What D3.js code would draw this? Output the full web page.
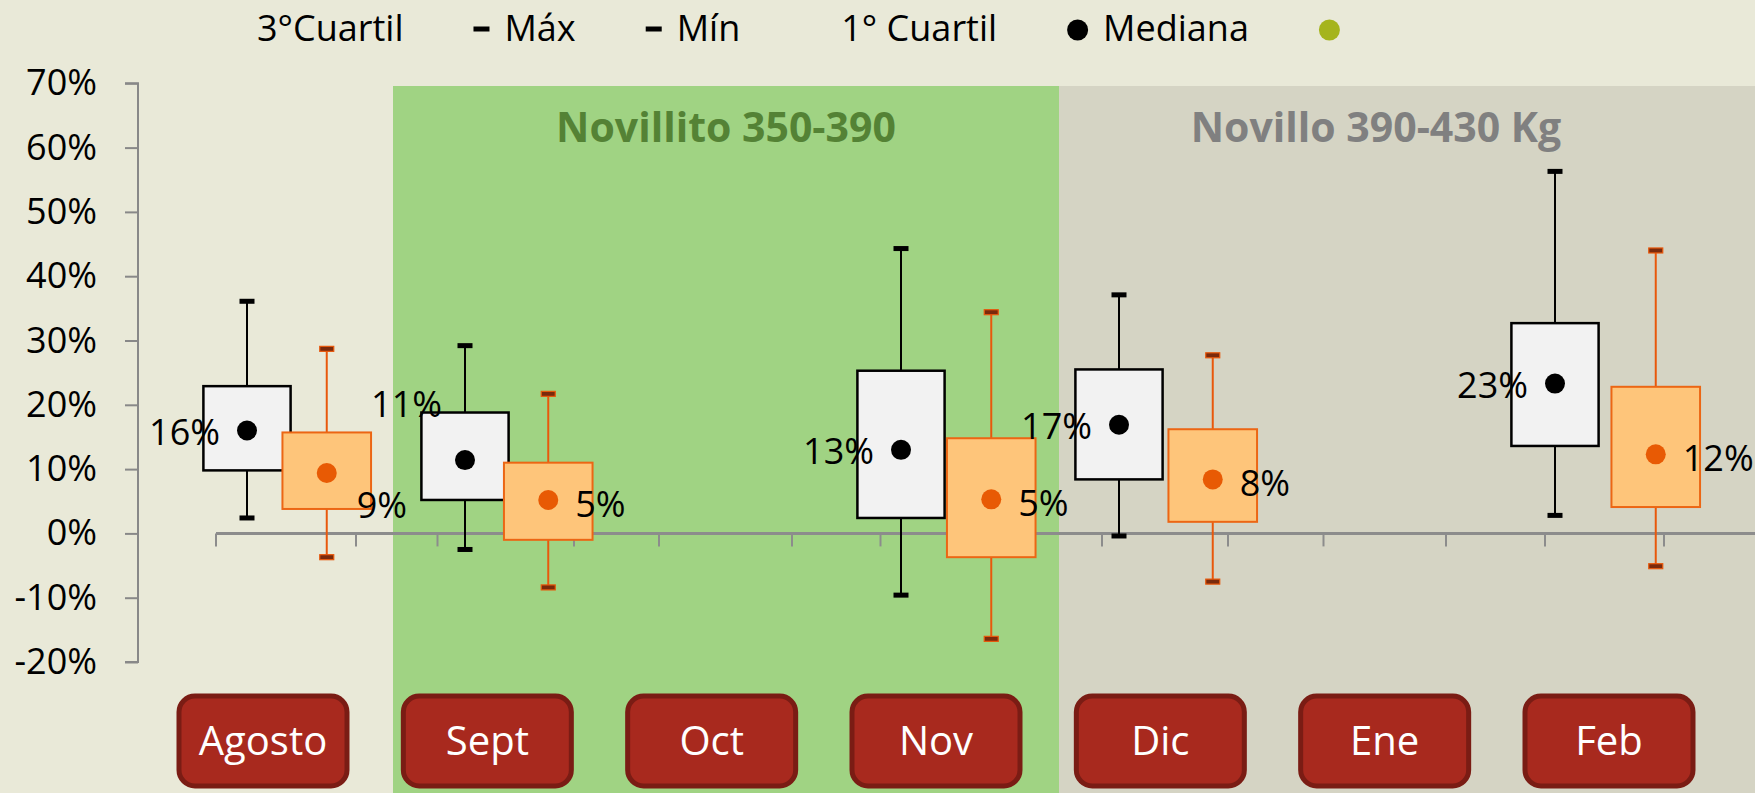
<!DOCTYPE html>
<html>
<head>
<meta charset="utf-8">
<title>Boxplot meses</title>
<script src="https://d3js.org/d3.v7.min.js"></script>
<style>
  body { margin: 0; background: #e9e9d8; }
  svg text { font-family: "Open Sans", sans-serif; }
</style>
</head>
<body>
<div id="chart"></div>
<script>
// categories
var months = ["Agosto", "Sept", "Oct", "Nov", "Dic", "Ene", "Feb"];

// serie 1 (cajas blancas), valores en %
var whiteMax = [36.1, 29.2, null, 44.3, 37.1, null, 56.3];
var whiteQ3  = [22.9, 18.8, null, 25.3, 25.5, null, 32.7];
var whiteMed = [16.0, 11.4, null, 13.0, 16.9, null, 23.3];
var whiteQ1  = [9.8, 5.2, null, 2.4, 8.4, null, 13.6];
var whiteMin = [2.4, -2.5, null, -9.6, -0.4, null, 2.8];

// serie 2 (cajas naranjas), valores en %
var orangeMax = [28.7, 21.7, null, 34.4, 27.7, null, 44.0];
var orangeQ3  = [15.7, 11.0, null, 14.8, 16.2, null, 22.8];
var orangeMed = [9.4, 5.2, null, 5.3, 8.4, null, 12.3];
var orangeQ1  = [3.8, -1.0, null, -3.7, 1.8, null, 4.1];
var orangeMin = [-3.7, -8.4, null, -16.4, -7.5, null, -5.1];

var yTicks = [-0.2, -0.1, 0, 0.1, 0.2, 0.3, 0.4, 0.5, 0.6, 0.7];
var legendLabels = ["3°Cuartil", "Máx", "Mín", "1° Cuartil", "Mediana", ""];
var legendMarkers = ["none", "dash", "dash", "none", "dot", "olive"];
var bandTitles = ["Novillito 350-390", "Novillo 390-430 Kg"];

var W = 1755, H = 793;
var svg = d3.select("#chart").append("svg")
  .attr("width", W).attr("height", H);

svg.append("rect").attr("width", W).attr("height", H).attr("fill", "#e9e9d8");

// background bands
svg.append("rect").attr("x", 393).attr("y", 86).attr("width", 666).attr("height", H - 86)
  .attr("fill", "#a0d383");
svg.append("rect").attr("x", 1059).attr("y", 86).attr("width", W - 1059).attr("height", H - 86)
  .attr("fill", "#d5d4c4");

svg.append("text").attr("x", 726).attr("y", 142).attr("text-anchor", "middle")
  .attr("font-size", 41).attr("font-weight", "bold").attr("fill", "#548235")
  .text(bandTitles[0]);
svg.append("text").attr("x", 1376).attr("y", 142).attr("text-anchor", "middle")
  .attr("font-size", 41).attr("font-weight", "bold").attr("fill", "#808080")
  .text(bandTitles[1]);

// scales
var y = d3.scaleLinear().domain([-0.2, 0.7]).range([662, 83.3]);
var xW = d3.scaleBand().domain(months).range([138, 1664]);
var xO = d3.scaleBand().domain(months).range([216, 1766.5]);

var fmt = function(v) { return d3.format(".0%")(v).replace("\u2212", "-"); };

// y axis
var yAxis = svg.append("g").attr("transform", "translate(138,0)")
  .call(d3.axisLeft(y).tickValues(yTicks).tickFormat(fmt).tickSize(13).tickPadding(28));
yAxis.select(".domain").attr("stroke", "#888").attr("stroke-width", 2)
  .attr("d", "M-13," + y(0.7) + "H0V" + y(-0.2) + "H-13");
yAxis.selectAll(".tick line").attr("stroke", "#888").attr("stroke-width", 2);
yAxis.selectAll(".tick text").attr("font-size", 36).attr("fill", "#000")
  .attr("font-family", "Open Sans");

// x axis line and ticks
svg.append("line").attr("x1", xO.range()[0]).attr("x2", W)
  .attr("y1", y(0)).attr("y2", y(0)).attr("stroke", "#8c8c8c").attr("stroke-width", 3);
var wTicks = d3.range(1, months.length + 1).map(function(i) { return xW.range()[0] + i * xW.step(); });
var oTicks = d3.range(0, months.length).map(function(i) { return xO.range()[0] + i * xO.step(); });
svg.selectAll("line.xtick").data(wTicks.concat(oTicks)).enter().append("line")
  .attr("class", "xtick")
  .attr("x1", function(d) { return d; }).attr("x2", function(d) { return d; })
  .attr("y1", y(0)).attr("y2", y(0) + 13)
  .attr("stroke", "#8c8c8c").attr("stroke-width", 2);

// box plots
function drawBoxes(x, mx, q3, med, q1, mn, st) {
  var data = months.map(function(m, i) {
    return { m: m, max: mx[i], q3: q3[i], med: med[i], q1: q1[i], min: mn[i] };
  }).filter(function(d) { return d.med != null; });
  var bw = x.step() * 0.4;
  var g = svg.append("g");
  var box = g.selectAll("g").data(data).enter().append("g")
    .attr("transform", function(d) { return "translate(" + (x(d.m) + x.bandwidth() / 2) + ",0)"; });
  box.append("line")
    .attr("y1", function(d) { return y(d.max / 100); })
    .attr("y2", function(d) { return y(d.min / 100); })
    .attr("stroke", st.line).attr("stroke-width", 2);
  box.append("rect")
    .attr("x", -bw / 2).attr("width", bw)
    .attr("y", function(d) { return y(d.q3 / 100); })
    .attr("height", function(d) { return y(d.q1 / 100) - y(d.q3 / 100); })
    .attr("fill", st.fill).attr("stroke", st.stroke).attr("stroke-width", st.sw);
  ["max", "min"].forEach(function(k) {
    box.append("rect")
      .attr("x", -st.capW / 2).attr("width", st.capW)
      .attr("y", function(d) { return y(d[k] / 100) - 2.5; }).attr("height", 5)
      .attr("fill", st.capFill).attr("stroke", st.capStroke).attr("stroke-width", 1.2);
  });
  box.append("circle")
    .attr("cy", function(d) { return y(d.med / 100); })
    .attr("r", 10).attr("fill", st.dot);
  return data;
}

var wData = drawBoxes(xW, whiteMax, whiteQ3, whiteMed, whiteQ1, whiteMin,
  { line: "#000", fill: "#f2f2f2", stroke: "#000", sw: 2.5, capW: 15, capFill: "#000", capStroke: "none", dot: "#000" });
var oData = drawBoxes(xO, orangeMax, orangeQ3, orangeMed, orangeQ1, orangeMin,
  { line: "#e8580c", fill: "#fec57a", stroke: "#ec6614", sw: 2, capW: 14, capFill: "#7a2a0c", capStroke: "#e8580c", dot: "#e85a04" });

// median labels (a couple were nudged by hand in the original)
var nudgeW = { "Sept": [4, -58] };
var nudgeO = { "Agosto": [3, 28] };
svg.append("g").selectAll("text").data(wData).enter().append("text")
  .attr("x", function(d) { return xW(d.m) + xW.bandwidth() / 2 - 27 + (nudgeW[d.m] ? nudgeW[d.m][0] : 0); })
  .attr("y", function(d) { return y(d.med / 100) + 2 + (nudgeW[d.m] ? nudgeW[d.m][1] : 0); })
  .attr("dy", "0.35em").attr("text-anchor", "end").attr("font-size", 36).attr("fill", "#000")
  .text(function(d) { return fmt(d.med / 100); });
svg.append("g").selectAll("text").data(oData).enter().append("text")
  .attr("x", function(d) { return xO(d.m) + xO.bandwidth() / 2 + 27 + (nudgeO[d.m] ? nudgeO[d.m][0] : 0); })
  .attr("y", function(d) { return y(d.med / 100) + 4 + (nudgeO[d.m] ? nudgeO[d.m][1] : 0); })
  .attr("dy", "0.35em").attr("text-anchor", "start").attr("font-size", 36).attr("fill", "#000")
  .text(function(d) { return fmt(d.med / 100); });

// month label boxes
var xL = d3.scalePoint().domain(months).range([263, 1609]);
var lab = svg.append("g").selectAll("g").data(months).enter().append("g")
  .attr("transform", function(d) { return "translate(" + xL(d) + ",741)"; });
lab.append("rect").attr("x", -84).attr("y", -45).attr("width", 168).attr("height", 90)
  .attr("rx", 16).attr("fill", "#a8291e").attr("stroke", "#7a1c14").attr("stroke-width", 5);
lab.append("text").attr("text-anchor", "middle").attr("dy", "0.35em")
  .attr("font-size", 40).attr("fill", "#fff").text(function(d) { return d; });

// legend
var leg = svg.append("g");
var lx = 226, ly = 29;
legendLabels.forEach(function(t, i) {
  var mk = legendMarkers[i];
  var mw = (mk === "dot" || mk === "olive") ? 21 : 16;
  if (mk === "dash") {
    leg.append("rect").attr("x", lx).attr("y", ly - 2.5).attr("width", 16).attr("height", 5).attr("fill", "#000");
  } else if (mk === "dot" || mk === "olive") {
    leg.append("circle").attr("cx", lx + 10.5).attr("cy", ly + 1).attr("r", 10.5)
      .attr("fill", mk === "dot" ? "#000" : "#a5b41c");
  }
  var tx = lx + mw + 15;
  var txt = leg.append("text").attr("x", tx).attr("y", 41).attr("font-size", 36).attr("fill", "#000").text(t);
  var len = t ? txt.node().getComputedTextLength() : 0;
  lx = tx + len + 70;
});
</script>
</body>
</html>
